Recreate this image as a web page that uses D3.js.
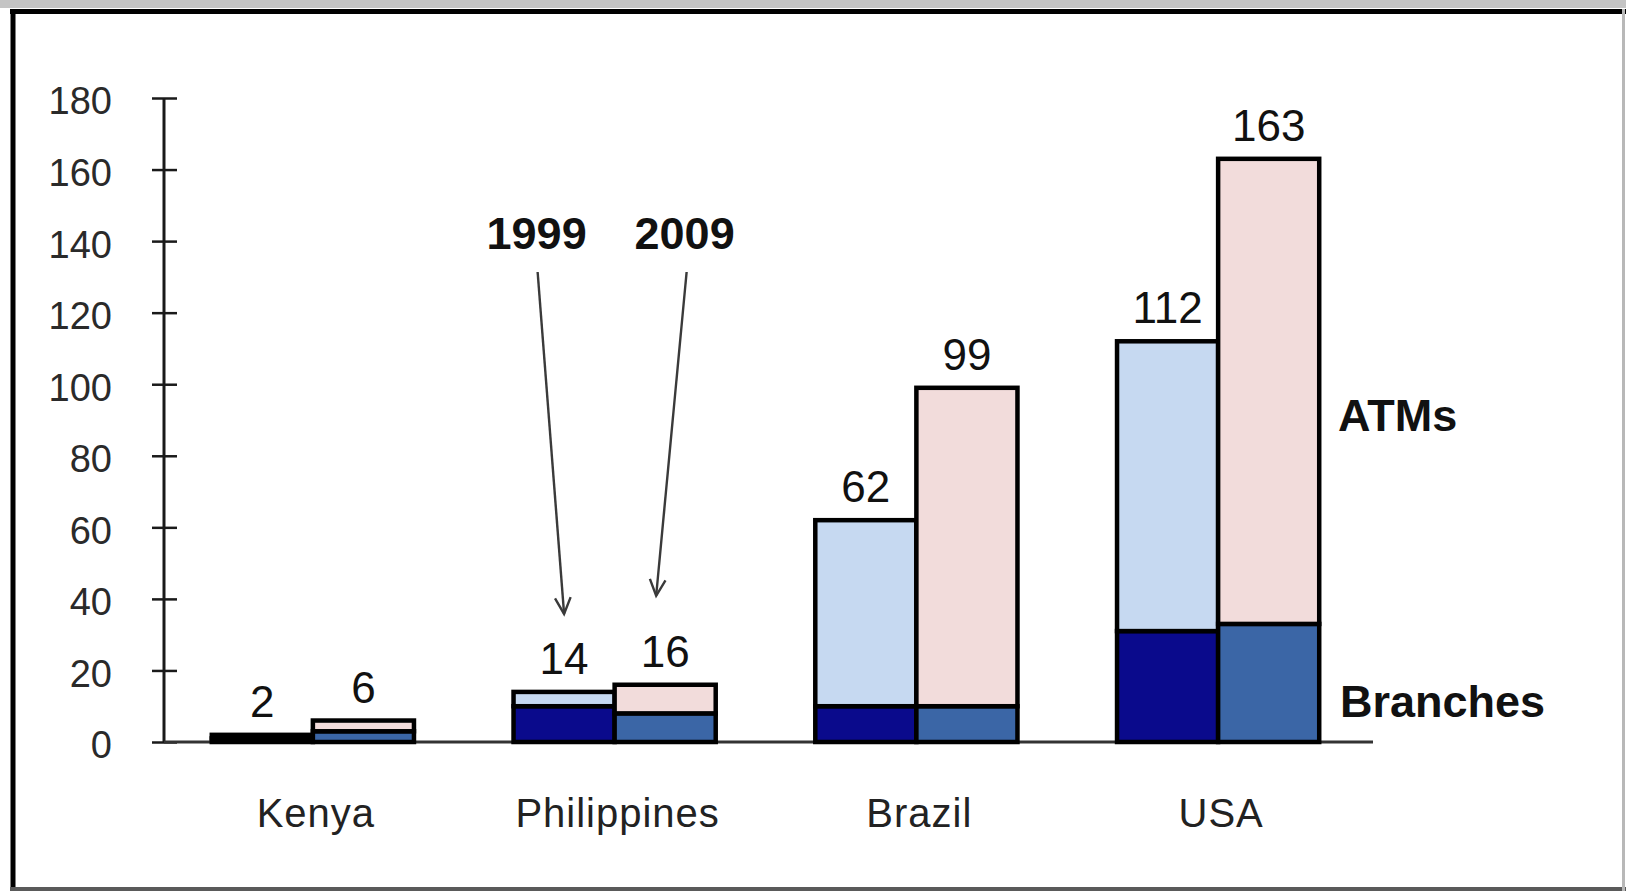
<!DOCTYPE html>
<html><head><meta charset="utf-8">
<script src="https://cdn.jsdelivr.net/npm/d3@7"></script>
<style>body{margin:0;background:#fff;} svg{display:block;font-family:"Liberation Sans",Arial,sans-serif;}</style>
</head><body><svg id="c" width="1626" height="891"></svg>
<script>
// ---- data ----
const countries = ["Kenya", "Philippines", "Brazil", "USA"];
const years = ["1999", "2009"];
const branches1999 = [1, 10, 10, 31];
const atms1999 = [1, 4, 52, 81];
const branches2009 = [3, 8, 10, 33];
const atms2009 = [3, 8, 89, 130];
const yTicks = [0, 20, 40, 60, 80, 100, 120, 140, 160, 180];
const segmentNames = ["ATMs", "Branches"];
const arrowYears = ["1999", "2009"];

// ---- setup ----
const svg = d3.select("#c");
const W = 1626, H = 891;
svg.append("rect").attr("width", W).attr("height", H).attr("fill", "#fff");

const x0 = d3.scaleBand().domain(countries).range([162, 1369]).paddingInner(0.33).paddingOuter(0.165);
const x1 = d3.scaleBand().domain(years).range([0, x0.bandwidth()]).padding(0);
const y = d3.scaleLinear().domain([0, 180]).range([742, 98]);

const colors = {
  "1999": {branch: "#0a0a8c", atm: "#c6d9f1"},
  "2009": {branch: "#3b66a6", atm: "#f2dcdb"}
};

const rows = [];
countries.forEach((c, i) => {
  rows.push({country: c, year: "1999", branch: branches1999[i], atm: atms1999[i]});
  rows.push({country: c, year: "2009", branch: branches2009[i], atm: atms2009[i]});
});

// ---- frame ----
svg.append("rect").attr("x", 0).attr("y", 0).attr("width", W).attr("height", 8).attr("fill", "#c4c4c4");
svg.append("line").attr("x1", 10).attr("x2", W).attr("y1", 11.5).attr("y2", 11.5).attr("stroke", "#000").attr("stroke-width", 5);
svg.append("line").attr("x1", 13).attr("x2", 13).attr("y1", 9).attr("y2", H).attr("stroke", "#000").attr("stroke-width", 5);
svg.append("line").attr("x1", 10).attr("x2", W).attr("y1", 889).attr("y2", 889).attr("stroke", "#5a5a5a").attr("stroke-width", 4);
svg.append("line").attr("x1", 1623.5).attr("x2", 1623.5).attr("y1", 9).attr("y2", H).attr("stroke", "#b8b8b8").attr("stroke-width", 3);

// ---- y axis ----
const yAxis = d3.axisLeft(y).tickValues(yTicks).tickSize(0).tickPadding(0);
const ga = svg.append("g").attr("transform", "translate(164,0)").call(yAxis);
ga.select(".domain").remove();
ga.selectAll(".tick text").attr("x", -52).attr("dy", "0.42em").attr("font-size", 38).attr("fill", "#2a2a2a")
  .attr("font-family", "Liberation Sans, Arial, sans-serif");
ga.selectAll(".tick").append("line").attr("x1", -12).attr("x2", 13).attr("stroke", "#1a1a1a").attr("stroke-width", 2.5);
svg.append("line").attr("x1", 164).attr("x2", 164).attr("y1", y(180)).attr("y2", y(0)).attr("stroke", "#1a1a1a").attr("stroke-width", 3);

// ---- x baseline ----
svg.append("line").attr("x1", 164).attr("x2", 1373).attr("y1", y(0)).attr("y2", y(0)).attr("stroke", "#333").attr("stroke-width", 3);

// ---- bars ----
const g = svg.append("g");
const bar = g.selectAll("g.bar").data(rows).join("g").attr("class", "bar")
  .attr("transform", d => `translate(${x0(d.country) + x1(d.year)},0)`);
bar.append("rect")
  .attr("x", 0).attr("width", x1.bandwidth())
  .attr("y", d => y(d.branch)).attr("height", d => y(0) - y(d.branch))
  .attr("fill", d => colors[d.year].branch).attr("stroke", "#000").attr("stroke-width", 4.5);
bar.append("rect")
  .attr("x", 0).attr("width", x1.bandwidth())
  .attr("y", d => y(d.branch + d.atm)).attr("height", d => y(d.branch) - y(d.branch + d.atm))
  .attr("fill", d => colors[d.year].atm).attr("stroke", "#000").attr("stroke-width", 4.5);
bar.append("text")
  .attr("x", x1.bandwidth() / 2).attr("y", d => y(d.branch + d.atm) - 18)
  .attr("text-anchor", "middle").attr("font-size", 44).attr("fill", "#111")
  .text(d => d.branch + d.atm);

// ---- country labels ----
svg.append("g").selectAll("text").data(countries).join("text")
  .attr("x", d => x0(d) + x0.bandwidth() / 2 + 3).attr("y", 827)
  .attr("text-anchor", "middle").attr("font-size", 40).attr("letter-spacing", 1).attr("fill", "#222")
  .text(d => d);

// ---- year annotations with arrows ----
const ph = "Philippines";
const phIdx = countries.indexOf(ph);
const phTotals = [branches1999[phIdx] + atms1999[phIdx], branches2009[phIdx] + atms2009[phIdx]];
const labelX = [x0(ph) + x0.bandwidth() / 2 - 78, x0(ph) + x0.bandwidth() / 2 + 70];
const tipDX = [0, -9];
const tipDY = [78, 89];
arrowYears.forEach((yr, i) => {
  svg.append("text").attr("x", labelX[i]).attr("y", 249).attr("text-anchor", "middle")
    .attr("font-size", 45).attr("font-weight", "bold").attr("fill", "#111").text(yr);
  const sx = labelX[i] + (i === 0 ? 1 : 2), sy = 272;
  const tx = x0(ph) + x1(yr) + x1.bandwidth() / 2 + tipDX[i];
  const ty = y(phTotals[i]) - tipDY[i];
  svg.append("line").attr("x1", sx).attr("y1", sy).attr("x2", tx).attr("y2", ty)
    .attr("stroke", "#3a3a3a").attr("stroke-width", 2.4);
  const ang = Math.atan2(ty - sy, tx - sx);
  const L = 18, spread = 0.45;
  const p = [
    [tx - L * Math.cos(ang - spread), ty - L * Math.sin(ang - spread)],
    [tx, ty],
    [tx - L * Math.cos(ang + spread), ty - L * Math.sin(ang + spread)]
  ];
  svg.append("path").attr("d", d3.line()(p)).attr("fill", "none")
    .attr("stroke", "#3a3a3a").attr("stroke-width", 2.4);
});

// ---- segment labels ----
svg.append("text").attr("x", 1338).attr("y", y(87)).attr("font-size", 45).attr("font-weight", "bold")
  .attr("fill", "#111").text(segmentNames[0]);
svg.append("text").attr("x", 1340).attr("y", y(7)).attr("font-size", 45).attr("font-weight", "bold")
  .attr("fill", "#111").text(segmentNames[1]);
</script>
</body></html>
